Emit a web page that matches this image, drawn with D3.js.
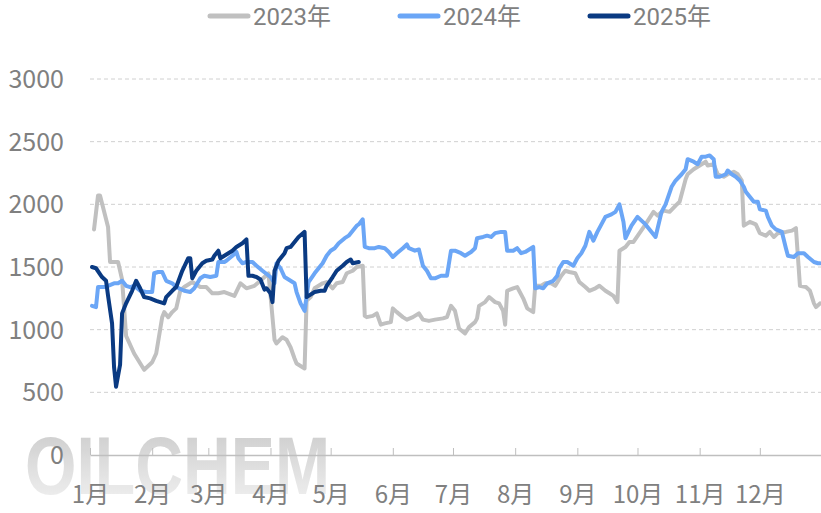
<!DOCTYPE html>
<html><head><meta charset="utf-8">
<script src="https://cdn.jsdelivr.net/npm/d3@7"></script>
<style>body{margin:0;background:#fff}svg{display:block}</style>
</head><body>
<svg id="c" width="821" height="513"></svg>
<script>
const seriesNames = ["2023年","2024年","2025年"];
const seriesColors = ["#c0c0c0","#6ba6f6","#0a3a82"];
const yTicks = [0,500,1000,1500,2000,2500,3000];
const monthLabels = ["1月","2月","3月","4月","5月","6月","7月","8月","9月","10月","11月","12月"];

const dates2023 = ["01-03","01-05","01-06","01-10","01-11","01-13","01-15","01-17","01-19","01-23","01-28","02-01","02-03","02-06","02-07","02-09","02-11","02-13","02-15","02-17","02-21","02-25","02-28","03-03","03-06","03-09","03-14","03-17","03-20","03-24","03-27","03-31","04-03","04-04","04-07","04-09","04-11","04-13","04-14","04-17","04-18","04-19","04-21","04-23","04-27","04-29","05-02","05-04","05-07","05-09","05-12","05-14","05-17","05-18","05-19","05-22","05-24","05-26","05-28","05-31","06-01","06-03","06-06","06-08","06-11","06-14","06-16","06-19","06-22","06-26","06-28","06-30","07-02","07-04","07-07","07-09","07-12","07-13","07-14","07-17","07-19","07-22","07-24","07-26","07-27","07-28","07-31","08-02","08-05","08-07","08-10","08-11","08-14","08-16","08-19","08-21","08-24","08-26","08-28","08-31","09-02","09-05","09-07","09-10","09-12","09-15","09-17","09-19","09-21","09-22","09-25","09-27","09-29","10-02","10-05","10-09","10-11","10-14","10-17","10-20","10-22","10-25","10-26","10-29","11-01","11-04","11-05","11-08","11-10","11-13","11-15","11-18","11-20","11-22","11-23","11-26","11-29","12-01","12-04","12-06","12-08","12-10","12-14","12-17","12-19","12-21","12-24","12-26","12-28","12-29","12-31"];
const values2023 = [1800,2070,2070,1820,1540,1540,1540,1400,950,810,680,740,810,1100,1140,1100,1140,1170,1310,1340,1380,1340,1340,1290,1290,1300,1270,1370,1330,1350,1390,1450,920,890,940,920,860,770,730,700,690,1230,1260,1330,1370,1380,1330,1370,1380,1450,1470,1500,1510,1110,1100,1110,1130,1040,1050,1060,1170,1140,1100,1080,1100,1130,1080,1070,1080,1090,1100,1190,1150,1010,970,1020,1060,1090,1190,1220,1260,1220,1210,1150,1040,1310,1330,1340,1250,1170,1140,1350,1350,1370,1370,1350,1430,1470,1460,1450,1380,1340,1310,1330,1350,1310,1290,1270,1220,1630,1660,1700,1700,1770,1840,1940,1910,1950,1940,1990,2020,2200,2240,2280,2310,2340,2310,2320,2240,2220,2240,2260,2240,2190,1830,1860,1840,1770,1750,1780,1740,1770,1780,1790,1810,1350,1340,1310,1210,1180,1210];

const dates2024 = ["01-02","01-04","01-05","01-08","01-10","01-13","01-15","01-17","01-19","01-21","01-23","01-26","01-29","02-01","02-02","02-04","02-06","02-08","02-11","02-13","02-17","02-20","02-22","02-25","02-27","03-02","03-05","03-06","03-09","03-10","03-13","03-15","03-16","03-18","03-20","03-23","03-25","03-28","04-01","04-03","04-04","04-06","04-08","04-11","04-13","04-14","04-16","04-18","04-20","04-23","04-24","04-27","04-29","05-01","05-03","05-05","05-08","05-10","05-12","05-14","05-15","05-17","05-18","05-20","05-23","05-25","05-28","05-30","06-01","06-03","06-06","06-08","06-09","06-12","06-14","06-16","06-18","06-20","06-22","06-25","06-28","06-30","07-02","07-05","07-07","07-10","07-12","07-13","07-16","07-18","07-20","07-22","07-25","07-27","07-28","07-31","08-02","08-04","08-06","08-09","08-10","08-11","08-13","08-15","08-17","08-20","08-22","08-23","08-25","08-27","08-30","09-01","09-03","09-05","09-07","09-09","09-11","09-13","09-15","09-18","09-20","09-22","09-24","09-25","09-28","10-01","10-05","10-08","10-10","10-13","10-15","10-18","10-20","10-23","10-25","10-26","10-29","10-31","11-02","11-04","11-06","11-08","11-09","11-11","11-14","11-15","11-17","11-19","11-21","11-23","11-24","11-26","11-28","11-30","12-01","12-04","12-05","12-07","12-09","12-12","12-14","12-15","12-18","12-20","12-23","12-25","12-28","12-30","12-31"];
const values2024 = [1190,1180,1340,1340,1350,1370,1370,1390,1350,1340,1350,1310,1300,1300,1450,1460,1460,1390,1370,1340,1310,1300,1330,1410,1430,1420,1430,1540,1540,1550,1590,1620,1570,1530,1540,1540,1510,1470,1420,1370,1530,1490,1420,1390,1370,1300,1210,1150,1380,1450,1470,1530,1590,1630,1650,1690,1730,1750,1790,1830,1840,1880,1660,1650,1650,1660,1650,1620,1580,1610,1650,1680,1650,1630,1640,1510,1470,1410,1410,1430,1430,1630,1630,1610,1590,1620,1650,1730,1740,1750,1740,1770,1780,1780,1630,1630,1650,1610,1620,1650,1660,1330,1340,1330,1370,1390,1430,1490,1540,1540,1510,1570,1610,1670,1780,1710,1780,1840,1900,1920,1940,2000,1860,1730,1830,1900,1840,1780,1740,1940,2000,2140,2190,2240,2280,2360,2340,2320,2380,2380,2390,2360,2220,2220,2240,2270,2240,2220,2190,2140,2100,2060,2020,2020,1960,1950,1900,1830,1800,1780,1650,1590,1580,1610,1610,1580,1540,1530,1530];

const dates2025 = ["01-02","01-04","01-07","01-09","01-10","01-12","01-13","01-14","01-16","01-17","01-19","01-22","01-24","01-26","01-28","01-31","02-03","02-07","02-08","02-11","02-13","02-16","02-19","02-20","02-21","02-23","02-26","02-28","03-03","03-04","03-06","03-07","03-09","03-11","03-13","03-15","03-18","03-20","03-21","03-23","03-25","03-27","03-29","03-30","04-01","04-02","04-03","04-05","04-08","04-09","04-11","04-13","04-15","04-18","04-19","04-20","04-23","04-26","04-28","04-29","05-02","05-04","05-07","05-09","05-11","05-12","05-15"];
const values2025 = [1500,1490,1420,1390,1270,1050,700,545,720,1130,1210,1310,1390,1330,1260,1250,1230,1210,1260,1310,1340,1470,1570,1570,1410,1470,1530,1550,1560,1590,1630,1570,1590,1610,1630,1660,1690,1720,1430,1430,1420,1400,1320,1330,1290,1220,1470,1550,1610,1650,1660,1700,1740,1780,1260,1270,1300,1310,1310,1350,1420,1470,1510,1540,1560,1530,1540];

const FONT = "'Noto Sans CJK SC','Noto Sans',sans-serif";
const LEGFONT = "Roboto,'Noto Sans CJK SC',sans-serif";
const TXT = "#808080";
const svg = d3.select("#c");
const parse = d3.timeParse("%Y-%m-%d");
const toDate = md => parse("2023-" + md);

const x = d3.scaleTime().domain([new Date(2023,0,1), new Date(2024,0,1)]).range([90, 822]);
const y = d3.scaleLinear().domain([0, 3000]).range([455, 79]);

// watermark
const defs = svg.append("defs");
const g = defs.append("linearGradient").attr("id","wm").attr("x1",0).attr("y1",0).attr("x2",0).attr("y2",1);
g.append("stop").attr("offset","0%").attr("stop-color","#c0c0c0");
g.append("stop").attr("offset","100%").attr("stop-color","#f2f2f2");
svg.append("text").attr("x",25).attr("y",494)
  .attr("textLength",305).attr("lengthAdjust","spacingAndGlyphs")
  .style("font-family","'Liberation Sans',Arial,sans-serif").style("font-weight","bold")
  .style("font-size","82px").attr("fill","url(#wm)").attr("opacity",0.85)
  .text("OILCHEM");

// gridlines
svg.append("g").selectAll("line").data(yTicks.filter(d=>d>0)).join("line")
  .attr("x1",90).attr("x2",821).attr("y1",d=>y(d)).attr("y2",d=>y(d))
  .attr("stroke","#d0d0d0").attr("stroke-width",1).attr("stroke-dasharray","4,3");

// y labels
svg.append("g").selectAll("text").data(yTicks).join("text")
  .attr("x",64).attr("y",d=>y(d))
  .attr("text-anchor","end").attr("dy","0.36em")
  .style("font-family",FONT).style("font-size","25px").attr("fill",TXT)
  .text(d=>d);

// x axis
const months = d3.timeMonth.range(new Date(2023,0,1), new Date(2024,0,1));
const xAxis = d3.axisBottom(x).tickValues(months).tickSizeInner(-7).tickSizeOuter(0).tickFormat((d,i)=>monthLabels[i]);
const ax = svg.append("g").attr("transform","translate(0,455)").call(xAxis);
ax.select(".domain").attr("stroke","#bfbfbf").attr("stroke-width",1.5);
ax.selectAll(".tick line").attr("stroke","#bfbfbf").attr("stroke-width",1);
ax.selectAll(".tick text").attr("y",39).attr("dy","0.36em")
  .style("font-family",FONT).style("font-size","24px").attr("fill",TXT);

// lines
const series = [
  {name:seriesNames[0], dates:dates2023, values:values2023, color:seriesColors[0]},
  {name:seriesNames[1], dates:dates2024, values:values2024, color:seriesColors[1]},
  {name:seriesNames[2], dates:dates2025, values:values2025, color:seriesColors[2]}
];
const line = d3.line().x(d=>x(d[0])).y(d=>y(d[1]));
svg.append("g").selectAll("path").data(series).join("path")
  .attr("d",s=>line(s.dates.map((dd,i)=>[toDate(dd), s.values[i]])))
  .attr("fill","none").attr("stroke",s=>s.color).attr("stroke-width",4)
  .attr("stroke-linejoin","round").attr("stroke-linecap","round");

// legend
const legX = [208, 398, 588];
const lg = svg.append("g").selectAll("g").data(series).join("g")
  .attr("transform",(d,i)=>`translate(${legX[i]},16)`);
lg.append("line").attr("x1",2).attr("x2",40).attr("y1",0).attr("y2",0)
  .attr("stroke",d=>d.color).attr("stroke-width",5).attr("stroke-linecap","round");
lg.append("text").attr("x",45).attr("dy","0.37em")
  .style("font-family",LEGFONT).style("font-size","24px").attr("fill",TXT).text(d=>d.name);
</script>
</body></html>
